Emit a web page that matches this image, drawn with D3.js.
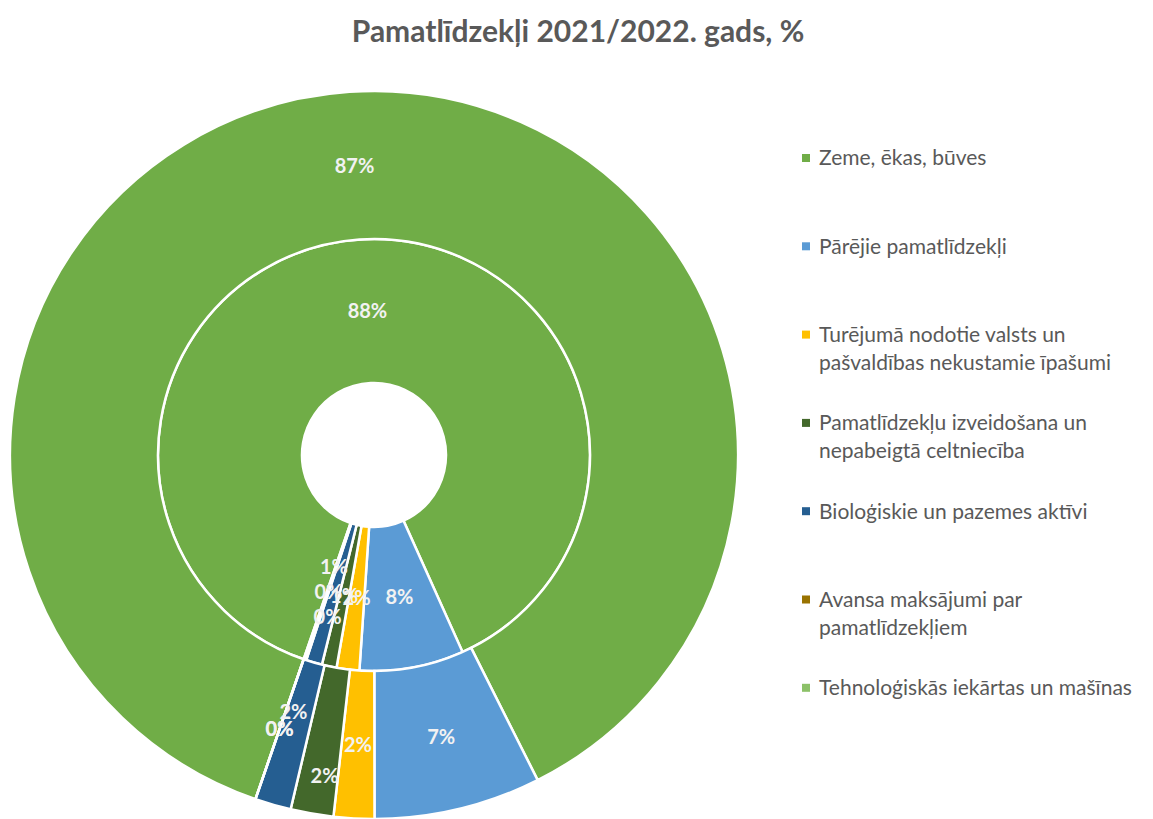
<!DOCTYPE html>
<html>
<head>
<meta charset="utf-8">
<script src="https://cdn.jsdelivr.net/npm/d3@7"></script>
<style>
  body { margin: 0; background: #fff; }
  svg { display: block; font-family: Lato, "Open Sans", sans-serif; }
</style>
</head>
<body>
<div id="chart"></div>
<script>
// data
var categories = [
    "Zeme, ēkas, būves",
    "Pārējie pamatlīdzekļi",
    "Turējumā nodotie valsts un pašvaldības nekustamie īpašumi",
    "Pamatlīdzekļu izveidošana un nepabeigtā celtniecība",
    "Bioloģiskie un pazemes aktīvi",
    "Avansa maksājumi par pamatlīdzekļiem",
    "Tehnoloģiskās iekārtas un mašīnas"
];
// legend lines (wrapped as in the original)
var legendLines = [
    ["Zeme, ēkas, būves"],
    ["Pārējie pamatlīdzekļi"],
    ["Turējumā nodotie valsts un", "pašvaldības nekustamie īpašumi"],
    ["Pamatlīdzekļu izveidošana un", "nepabeigtā celtniecība"],
    ["Bioloģiskie un pazemes aktīvi"],
    ["Avansa maksājumi par", "pamatlīdzekļiem"],
    ["Tehnoloģiskās iekārtas un mašīnas"]
];
var values2021 = [88.0, 7.8, 1.7, 1.1, 1.2, 0.1, 0.1];   // inner ring
var values2022 = [87.3, 7.4, 1.8, 1.9, 1.6, 0.0, 0.0];   // outer ring

var colors = ["#70AD47", "#5B9BD5", "#FFC000", "#43682B", "#255E91", "#997300", "#8CC168"];

var widthsvg = 1153;
var heightsvg = 819;
var cx = 374, cy = 455;
var holeR = 72, midR = 216, outerR = 364;
var startDeg = 199;

// label nudges where Excel pushed overlapping labels apart
var nudge = {
    inner: {4: -26, 6: 26},
    outer: {3: 35, 4: -22}
};

var svg = d3.select("#chart")
    .append("svg")
    .attr("width", widthsvg)
    .attr("height", heightsvg);

svg.append("text")
    .attr("x", 578)
    .attr("y", 42)
    .attr("text-anchor", "middle")
    .attr("fill", "#595959")
    .attr("font-size", 30)
    .attr("font-weight", 700)
    .text("Pamatlīdzekļi 2021/2022. gads, %");

var pie = d3.pie()
    .sort(null)
    .startAngle(startDeg * Math.PI / 180)
    .endAngle((startDeg + 360) * Math.PI / 180);

var fmt = function(v) { return Math.round(v) + "%"; };

var chartGroup = svg.append("g")
    .attr("transform", `translate(${cx}, ${cy})`);

var rings = [
    {key: "inner", values: values2021, r0: holeR, r1: midR},
    {key: "outer", values: values2022, r0: midR, r1: outerR}
];

rings.forEach(function(ring) {
    var arc = d3.arc().innerRadius(ring.r0).outerRadius(ring.r1);
    var arcs = pie(ring.values);

    chartGroup.append("g").selectAll("path")
        .data(arcs)
        .enter()
        .append("path")
        .attr("d", arc)
        .attr("fill", (d, i) => colors[i])
        .attr("stroke", "#fff")
        .attr("stroke-width", 2.5);

    chartGroup.append("g").selectAll("text")
        .data(arcs)
        .enter()
        .append("text")
        .attr("transform", function(d, i) {
            var c = arc.centroid(d);
            var dy = nudge[ring.key][i] || 0;
            return `translate(${c[0]}, ${c[1] + dy})`;
        })
        .attr("text-anchor", "middle")
        .attr("dy", "0.35em")
        .attr("fill", "#F2F2F2")
        .attr("font-size", 20)
        .attr("font-weight", 700)
        .text(d => fmt(d.data));
});

// legend
var legend = svg.append("g");
var legendItems = legend.selectAll("g")
    .data(categories)
    .enter()
    .append("g")
    .attr("transform", (d, i) => `translate(802, ${158 + i * 88.3})`);

legendItems.append("rect")
    .attr("x", 0)
    .attr("y", -4)
    .attr("width", 8)
    .attr("height", 8)
    .attr("fill", (d, i) => colors[i]);

legendItems.each(function(d, i) {
    var t = d3.select(this).append("text")
        .attr("x", 17)
        .attr("y", 0)
        .attr("fill", "#595959")
        .attr("font-size", 21);
    legendLines[i].forEach(function(line, j) {
        t.append("tspan")
            .attr("x", 17)
            .attr("dy", j === 0 ? "0.35em" : 28)
            .text(line);
    });
});
</script>
</body>
</html>
